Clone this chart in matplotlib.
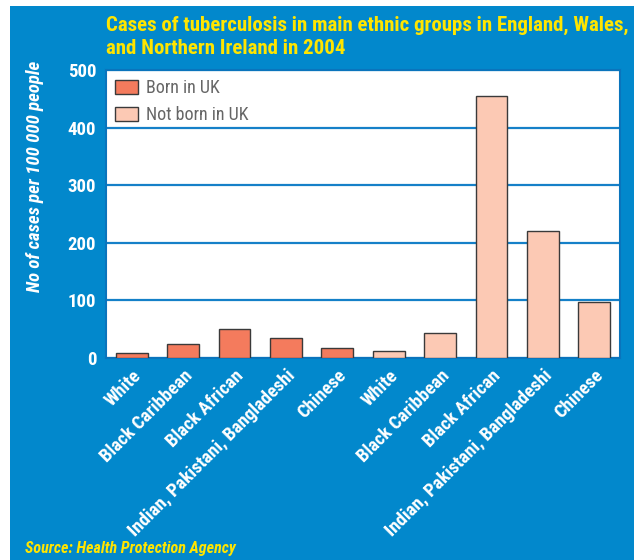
import matplotlib
matplotlib.use("Agg")
import matplotlib.pyplot as plt
from matplotlib.patches import Rectangle

groups = ["White", "Black Caribbean", "Black African", "Indian, Pakistani, Bangladeshi", "Chinese"]
born_uk = [9, 24, 50, 35, 17]
not_born_uk = [12, 43, 454, 221, 97]
yticks = [0, 100, 200, 300, 400, 500]

BLUE = "#0288CC"
YELLOW = "#FFE500"
COND = ["Roboto Condensed", "DejaVu Sans"]

fig = plt.figure(figsize=(6.34, 5.60), dpi=100)
fig.patch.set_facecolor("white")
fig.patches.append(Rectangle((10/634, 0), 1 - 10/634, (560-6)/560, transform=fig.transFigure,
                             facecolor=BLUE, edgecolor="none", zorder=-10))

ax = fig.add_axes([106/634, (560-358)/560, (620-106)/634, (358-70)/560])
ax.set_facecolor("white")

labels = groups + groups
x = list(range(len(labels)))
ax.bar(x[:5], born_uk, width=0.62, color="#F47B5D", edgecolor="#3a3a3a", linewidth=1, zorder=3, label="Born in UK")
ax.bar(x[5:], not_born_uk, width=0.62, color="#FCC9B4", edgecolor="#3a3a3a", linewidth=1, zorder=3, label="Not born in UK")

ax.set_xlim(-0.5, 9.5)
ax.set_ylim(0, 500)
ax.set_yticks(yticks)
ax.set_yticklabels([str(v) for v in yticks], color="white", fontsize=13.5, fontweight="bold", family=COND)
ax.yaxis.grid(True, color="#1580C8", linewidth=1.6, zorder=1)
ax.set_axisbelow(True)
ax.tick_params(axis="y", length=0, pad=7)
ax.tick_params(axis="x", length=0, pad=6)
ax.set_xticks(x)
ax.set_xticklabels(labels, rotation=45, ha="right", rotation_mode="anchor", color="white",
                   fontsize=13.5, fontweight="bold", family=COND)
for s in ax.spines.values():
    s.set_color("#0A74BC")
    s.set_linewidth(1.5)

fig.text(35/634, 1 - 176/560, "No of cases per 100 000 people", color="white", fontsize=13.5,
         fontweight="bold", fontstyle="italic", family=COND, rotation=90, va="center", ha="center")

leg = ax.legend(loc="upper left", frameon=True, fancybox=False, handlelength=1.3,
                handleheight=0.85, borderaxespad=0.05, labelspacing=0.5, borderpad=0.45, handletextpad=0.4,
                prop={"family": COND, "size": 13})
leg.get_frame().set_edgecolor("white")
leg.get_frame().set_facecolor("white")
leg.get_frame().set_alpha(1)
leg.get_frame().set_linewidth(0)
leg.set_zorder(0.2)
for t in leg.get_texts():
    t.set_color("#666666")

fig.text(106/634, 1 - 37/560, "Cases of tuberculosis in main ethnic groups in England, Wales,\nand Northern Ireland in 2004",
         color=YELLOW, fontsize=15, fontweight=900, family=COND, va="center", ha="left", linespacing=1.3)
fig.text(25/634, 1 - 548/560, "Source: Health Protection Agency", color=YELLOW, fontsize=11.5,
         fontweight="bold", fontstyle="italic", family=COND, va="center", ha="left")

fig.savefig("out.png", dpi=100, facecolor=fig.get_facecolor())
